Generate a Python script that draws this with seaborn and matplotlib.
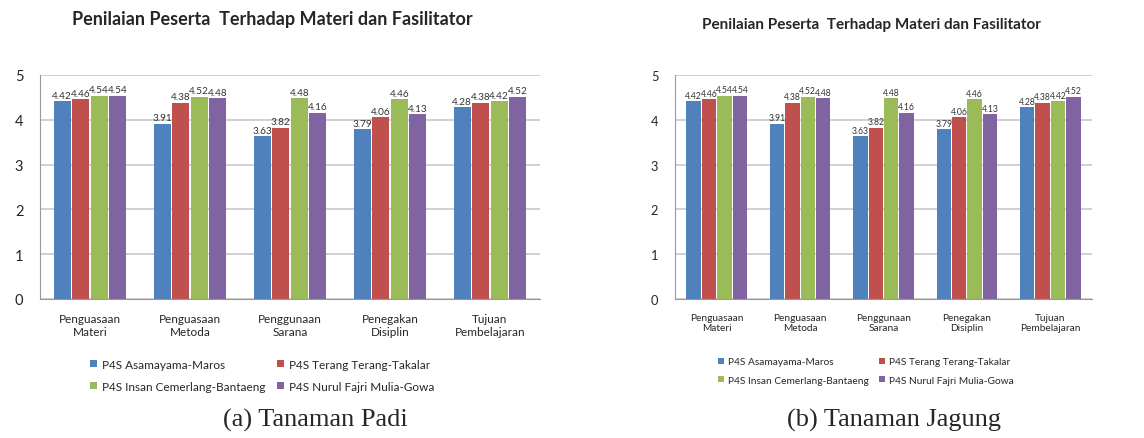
import numpy as np
import pandas as pd
import matplotlib
matplotlib.use("Agg")
import matplotlib.pyplot as plt
import seaborn as sns

# data (same values in both panels)
kategori = ["Penguasaan\nMateri", "Penguasaan\nMetoda", "Penggunaan\nSarana",
            "Penegakan\nDisiplin", "Tujuan\nPembelajaran"]
lokasi = ["P4S Asamayama-Maros", "P4S Terang Terang-Takalar",
          "P4S Insan Cemerlang-Bantaeng", "P4S Nurul Fajri Mulia-Gowa"]
asamayama = [4.42, 3.91, 3.63, 3.79, 4.28]
terang = [4.46, 4.38, 3.82, 4.06, 4.38]
insan = [4.54, 4.52, 4.48, 4.46, 4.42]
nurul = [4.54, 4.48, 4.16, 4.13, 4.52]
warna = ["#4F81BD", "#C0504D", "#9BBB59", "#8064A2"]
judul = "Penilaian Peserta  Terhadap Materi dan Fasilitator"

df = pd.DataFrame({
    "kategori": kategori * 4,
    "lokasi": np.repeat(lokasi, len(kategori)),
    "nilai": asamayama + terang + insan + nurul,
})

sns.set_style("white")
plt.rcParams["font.family"] = ["Lato", "DejaVu Sans"]

W, H = 1144, 439
fig = plt.figure(figsize=(W / 100, H / 100), dpi=100)


def panel(rect, fs, lab_fs, leg_x):
    ax = fig.add_axes(rect)
    sns.barplot(data=df, x="kategori", y="nilai", hue="lokasi", palette=warna,
                width=0.74, gap=0.06, ax=ax, legend=False, saturation=1,
                edgecolor="none")
    for c in ax.containers:
        ax.bar_label(c, fmt="%.2f", fontsize=lab_fs, padding=1, color="#333333")
    ax.set_ylim(0, 5)
    ax.set_yticks(range(6))
    ax.set_xlabel("")
    ax.set_ylabel("")
    ax.grid(axis="y", color="#C8C8C8", lw=1.2)
    ax.set_axisbelow(True)
    for s in ["top", "right"]:
        ax.spines[s].set_visible(False)
    ax.spines["left"].set_color("#999999")
    ax.spines["bottom"].set_color("#999999")
    ax.tick_params(axis="y", labelsize=fs + 2, length=4, color="#999999", pad=8)
    ax.tick_params(axis="x", labelsize=fs, length=0, pad=10)
    # legend filled row by row like the original
    hs = list(ax.containers)
    order = [0, 2, 1, 3]
    ax.legend([hs[i] for i in order], [lokasi[i] for i in order], ncol=2,
              loc="upper center", bbox_to_anchor=(leg_x, -0.22), frameon=False,
              fontsize=fs, handlelength=0.6, handleheight=0.6,
              handletextpad=0.4, columnspacing=1.0, labelspacing=0.9)
    return ax


panel([40 / W, 139 / H, 500 / W, 224 / H], 8.5, 7.2, 0.444)
panel([675 / W, 139 / H, 417 / W, 224 / H], 7.3, 6.2, 0.458)

fig.text(272 / W, 1 - 20 / H, judul, ha="center", va="center",
         fontsize=13, fontweight="bold")
fig.text(871 / W, 1 - 25 / H, judul, ha="center", va="center",
         fontsize=11, fontweight="bold")
fig.text(315 / W, 1 - 420 / H, "(a) Tanaman Padi", ha="center", va="center",
         fontsize=19, family=["Liberation Serif"])
fig.text(894 / W, 1 - 420 / H, "(b) Tanaman Jagung", ha="center", va="center",
         fontsize=19, family=["Liberation Serif"])

fig.savefig("out.png", dpi=100, facecolor="white")
